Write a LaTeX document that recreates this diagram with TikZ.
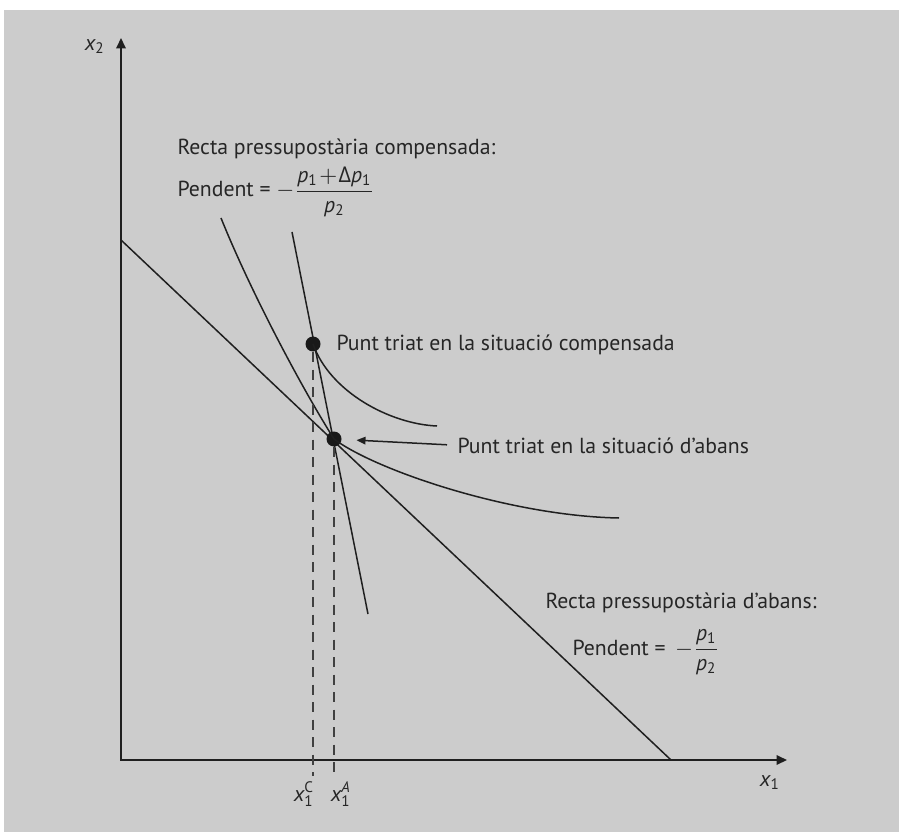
\documentclass[tikz,border=0pt]{standalone}
\usepackage{amsmath}
\usepackage{fontspec}
\setmainfont{PT Sans}
\newfontfamily\grkfont{Open Sans}
\usetikzlibrary{arrows.meta}
\newcommand{\vp}[1]{\mathit{p}_{\text{#1}}}
\newcommand{\vx}[1]{\mathit{x}_{\text{#1}}}

\begin{document}
\begin{tikzpicture}[x=0.4pt,y=-0.4pt,
    every node/.style={font=\fontsize{8.7}{10}\selectfont, text=black!85},
    curve/.style={line width=0.6pt, draw=black!88},
    axis/.style={line width=0.75pt, draw=black!88},
    guide/.style={line width=0.55pt, draw=black!75, dash pattern=on 4pt off 3pt},
    dot/.style={circle, fill=black!90, inner sep=0pt, minimum size=6pt},
    lbl/.style={anchor=base west, inner sep=0pt}]
    \useasboundingbox (0,0) rectangle (899,832);
    \fill[black!20] (4,10) rectangle (899,832);
    % axes
    \coordinate (O) at (121,760);
    \coordinate (ytop) at (121,38);
    \coordinate (xend) at (787,760);
    \coordinate (tick) at (0,776);
    \draw[axis, {Triangle[length=4.2pt,width=3.8pt]}-{Triangle[length=4.2pt,width=3.8pt]}] (ytop) -- (O) -- (xend);
    \node (x2) at (95,47) {$\vx{2}$};
    \node (x1) at (770,783) {$\vx{1}$};
    % budget lines
    \coordinate (b0) at (121,240);
    \coordinate (b1) at (671,760);
    \coordinate (c0) at (292,232);
    \coordinate (c1) at (368,614);
    \draw[curve] (b0) -- (b1);
    \draw[curve] (c0) -- (c1);
    % chosen points
    \node[dot] (C) at (313,344) {};
    \node[dot] (A) at (334,439) {};
    % indifference curves
    \draw[curve] (221,218) .. controls (250,290) and (300,385) .. (A.center)
        .. controls (375,470) and (510,516) .. (619,518);
    \draw[curve] (C.center) .. controls (330,392) and (390,424) .. (437,426);
    \draw[guide] (C) -- (C |- tick);
    \draw[guide] (A) -- (A |- tick);
    \node[inner sep=0pt] (x1C) at (304,794) {$\vx{1}^{\text{C}}$};
    \node[inner sep=0pt] (x1A) at (341,794) {$\vx{1}^{\mathit{A}}$};
    % labels
    \node[lbl] (ttlC) at (177,155) {Recta pressupostària compensada:};
    \node[lbl] (slpC) at (177,197) {Pendent = $-\dfrac{\vp{1}\mkern1mu{+}\mkern1mu\text{\grkfont Δ}\vp{1}}{\vp{2}}$};
    \node[lbl] (labC) at (336,350) {Punt triat en la situació compensada};
    \node[lbl] (labA) at (457,453) {Punt triat en la situació d’abans};
    \node[lbl] (ttlA) at (545,608) {Recta pressupostària d’abans:};
    \node[lbl] (slpA) at (572,655) {Pendent = \,$-\dfrac{\vp{1}}{\vp{2}}$};
    \draw[curve, -{Triangle[length=3.6pt,width=3pt]}, shorten <=4pt, shorten >=5.8pt] (labA.west) -- (A);
\end{tikzpicture}
\end{document}
